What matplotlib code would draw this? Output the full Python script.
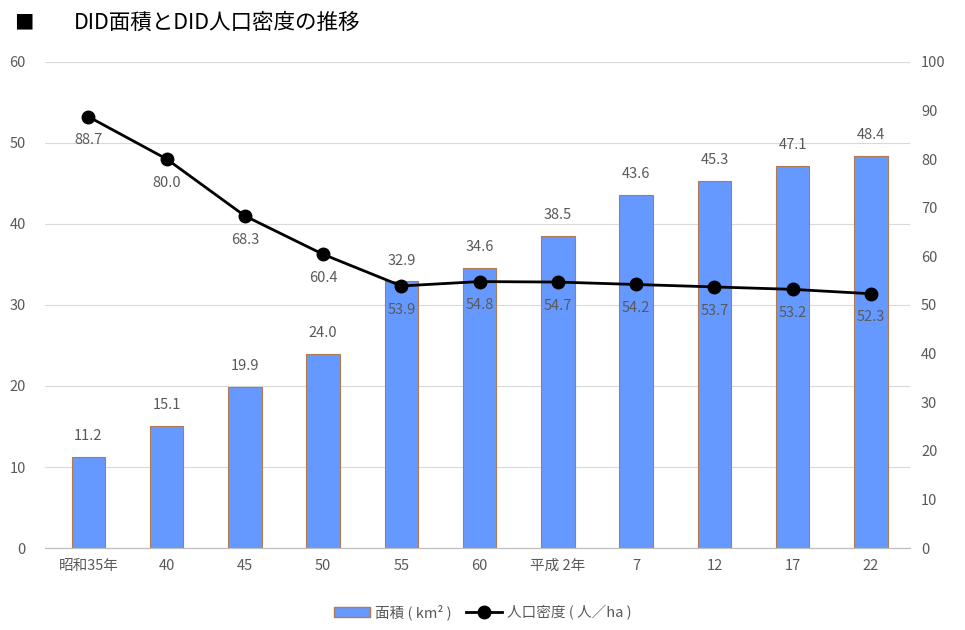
import matplotlib
matplotlib.use("Agg")
import matplotlib.pyplot as plt
from matplotlib.lines import Line2D
from matplotlib.patches import Patch

plt.rcParams['font.family'] = ['Noto Sans CJK JP', 'DejaVu Sans']

categories = ["昭和35年", "40", "45", "50", "55", "60", "平成 2年", "7", "12", "17", "22"]
area = [11.2, 15.1, 19.9, 24.0, 32.9, 34.6, 38.5, 43.6, 45.3, 47.1, 48.4]
density = [88.7, 80.0, 68.3, 60.4, 53.9, 54.8, 54.7, 54.2, 53.7, 53.2, 52.3]

fig = plt.figure(figsize=(9.65, 6.3), dpi=100)
ax = fig.add_axes([0.047, 0.130, 0.896, 0.772])
ax2 = ax.twinx()

x = list(range(len(categories)))
gray = "#595959"

ax.bar(x, area, width=0.43, color="#6699FF", edgecolor="#B07B50", linewidth=0.8, zorder=2)
for xi, v in zip(x, area):
    ax.annotate(f"{v:.1f}", (xi, v), xytext=(0, 10), textcoords="offset points",
                ha="center", va="bottom", fontsize=10.5, color=gray)

ax.set_ylim(0, 60)
ax.set_yticks(range(0, 61, 10))
ax.set_xlim(-0.55, 10.5)
ax.set_xticks(x)
ax.set_xticklabels(categories)
ax.grid(axis="y", color="#D9D9D9", linewidth=0.8, zorder=0)
ax.set_axisbelow(True)

ax2.plot(x, density, color="black", linewidth=2, marker="o", markersize=9, zorder=3)
for xi, v in zip(x, density):
    ax2.annotate(f"{v:.1f}", (xi, v), xytext=(0, -12), textcoords="offset points",
                 ha="center", va="top", fontsize=10.5, color=gray)
ax2.set_ylim(0, 100)
ax2.set_yticks(range(0, 101, 10))

for a in (ax, ax2):
    for s in ("top", "left", "right"):
        a.spines[s].set_visible(False)
    a.spines["bottom"].set_color("#BFBFBF")
    a.tick_params(length=0, colors=gray, labelsize=10.5)
ax.tick_params(axis="y", pad=14)
ax2.tick_params(axis="y", pad=8)
ax.tick_params(axis="x", pad=8)

handles = [Patch(facecolor="#6699FF", edgecolor="#B07B50", label="面積 ( km² )"),
           Line2D([0], [0], color="black", linewidth=2, marker="o", markersize=9,
                  label="人口密度 ( 人／ha )")]
fig.legend(handles=handles, loc="center", bbox_to_anchor=(0.5, 0.028), ncol=2,
           frameon=False, fontsize=10.5, labelcolor=gray, handlelength=2.5,
           columnspacing=1.0, handletextpad=0.3)

fig.text(0.015, 0.963, "■", fontsize=14, ha="left", va="center", color="black")
fig.text(0.077, 0.963, "DID面積とDID人口密度の推移", fontsize=15.5, ha="left", va="center",
         color="black")

fig.savefig("out.png", dpi=100)
